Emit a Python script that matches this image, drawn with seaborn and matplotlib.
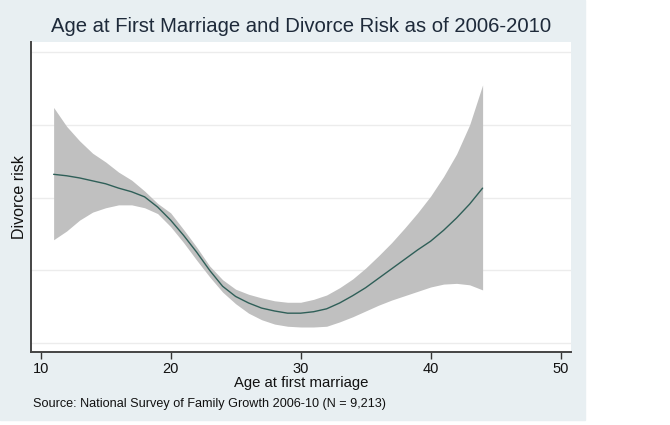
import matplotlib
matplotlib.use("Agg")
import matplotlib.pyplot as plt
import seaborn as sns
import pandas as pd
from matplotlib.patches import Rectangle

# values (y in arbitrary risk units, gridlines at 0..4)
ages = list(range(11, 45))
risk = [2.32, 2.30, 2.27, 2.23, 2.19, 2.13, 2.08, 2.01, 1.87, 1.69,
        1.48, 1.25, 1.00, 0.78, 0.64, 0.55, 0.48, 0.44, 0.41, 0.41,
        0.43, 0.47, 0.55, 0.65, 0.76, 0.89, 1.02, 1.15, 1.28, 1.40,
        1.55, 1.72, 1.91, 2.13]
upper = [3.24, 2.98, 2.78, 2.61, 2.49, 2.35, 2.24, 2.09, 1.92, 1.79,
         1.56, 1.32, 1.06, 0.87, 0.74, 0.67, 0.62, 0.58, 0.56, 0.56,
         0.60, 0.66, 0.76, 0.88, 1.03, 1.20, 1.38, 1.58, 1.79, 2.02,
         2.29, 2.60, 3.00, 3.55]
lower = [1.42, 1.54, 1.69, 1.80, 1.86, 1.90, 1.90, 1.86, 1.78, 1.60,
         1.38, 1.14, 0.91, 0.70, 0.54, 0.41, 0.32, 0.26, 0.23, 0.22,
         0.22, 0.23, 0.29, 0.36, 0.44, 0.52, 0.59, 0.65, 0.71, 0.77,
         0.81, 0.82, 0.80, 0.73]
x_ticks = [10, 20, 30, 40, 50]
grid_levels = [0, 1, 2, 3, 4]

df = pd.DataFrame({"age": ages, "risk": risk, "upper": upper, "lower": lower})

sns.set_style("white")
plt.rcParams["font.family"] = ["Liberation Sans", "DejaVu Sans"]

bg = "#e8eff2"
fig = plt.figure(figsize=(6.7, 4.25), dpi=100, facecolor="white")
fig.patches.append(Rectangle((0, 5 / 425), 585 / 670, 420 / 425,
                             transform=fig.transFigure, color=bg, zorder=-10))
ax = fig.add_axes([31 / 670, 73 / 425, 540 / 670, 310 / 425])
ax.set_facecolor("white")

for g in grid_levels:
    ax.axhline(g, color="#ececec", lw=1.0, zorder=0)

ax.fill_between(df["age"], df["lower"], df["upper"], color="#c0c0c0", lw=0, zorder=1)
sns.lineplot(data=df, x="age", y="risk", ax=ax, color="#2f5f58", lw=1.0, zorder=2)

ax.set_xlim(9.26, 50.8)
ax.set_ylim(-0.124, 4.14)
ax.set_xticks(x_ticks)
ax.set_yticks([])
ax.tick_params(axis="x", direction="out", length=5, width=1, color="#333333",
               labelsize=10.5, labelcolor="#111111", pad=2, bottom=True)
for s in ["top", "right"]:
    ax.spines[s].set_visible(False)
for s in ["left", "bottom"]:
    ax.spines[s].set_color("#444444")
    ax.spines[s].set_linewidth(1.4)

ax.set_xlabel("Age at first marriage", fontsize=10.7, color="#111111", labelpad=0.5)
ax.set_ylabel("Divorce risk", fontsize=11.5, color="#111111", labelpad=3)

fig.text(301 / 670, 1 - 26 / 425, "Age at First Marriage and Divorce Risk as of 2006-2010",
         ha="center", va="center", fontsize=14.6, color="#1e2a3a")
fig.text(33 / 670, 1 - 404 / 425, "Source: National Survey of Family Growth 2006-10 (N = 9,213)",
         ha="left", va="center", fontsize=9.1, color="#111111")

fig.savefig("out.png", dpi=100, facecolor=fig.get_facecolor())
